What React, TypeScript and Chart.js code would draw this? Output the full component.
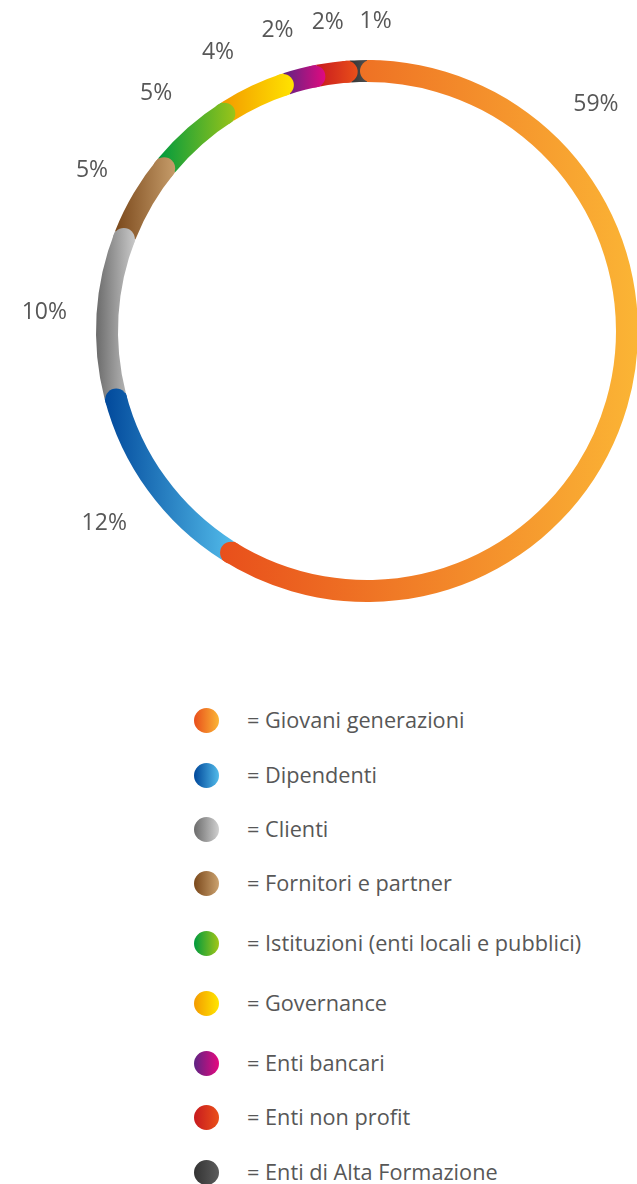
import React, { useEffect, useRef } from "react";
import { Chart, registerables } from "chart.js";

Chart.register(...registerables);

// ---------- data ----------
const CATEGORIES = [
  "Giovani generazioni",
  "Dipendenti",
  "Clienti",
  "Fornitori e partner",
  "Istituzioni (enti locali e pubblici)",
  "Governance",
  "Enti bancari",
  "Enti non profit",
  "Enti di Alta Formazione",
];
const VALUES = [59, 12, 10, 5, 5, 4, 2, 2, 1];
const VALUE_LABELS = ["59%", "12%", "10%", "5%", "5%", "4%", "2%", "2%", "1%"];
const COLOR_START = [
  "#e84e1b",
  "#00479a",
  "#6b6b6b",
  "#7a481b",
  "#009a3e",
  "#f39a00",
  "#5e2483",
  "#c71a1f",
  "#333333",
];
const COLOR_END = [
  "#fbb535",
  "#52bbea",
  "#d0d0d0",
  "#cba26f",
  "#a2c617",
  "#ffe600",
  "#e5097f",
  "#ea5019",
  "#5c5c5c",
];

// ---------- layout / style ----------
const CANVAS_W = 740;
const CANVAS_H = 662;
const OUTER_R = 271;
const INNER_R = 249;
const CAP_OVERHANG = 7;
const LABEL_GAP = 29;
// label directions (degrees clockwise from top) where the label is not at the slice middle
const LABEL_ANGLE_OVERRIDES: Record<number, number> = { 0: 45, 5: 332, 6: 343.5, 8: 1.6 };
const LEGEND_ROW_Y = [720, 775, 829, 883, 943, 1003, 1063, 1117, 1172];
const TEXT_COLOR = "#575757";
const FONT = "'Open Sans', 'Noto Sans', sans-serif";

function arcGeom(el: any) {
  return el.getProps(
    ["x", "y", "startAngle", "endAngle", "innerRadius", "outerRadius"],
    true
  );
}

const ringPlugin = {
  id: "ringDecor",
  beforeDatasetsDraw(chart: any) {
    const ctx = chart.ctx as CanvasRenderingContext2D;
    const meta = chart.getDatasetMeta(0);
    meta.data.forEach((el: any, i: number) => {
      const { x, startAngle, endAngle, innerRadius, outerRadius } = arcGeom(el);
      const midR = (innerRadius + outerRadius) / 2;
      const ext = CAP_OVERHANG / midR;
      let minX = Infinity;
      let maxX = -Infinity;
      const a0 = startAngle - (i === 0 ? ext : 0);
      const a1 = endAngle + ext;
      const steps = 90;
      for (let k = 0; k <= steps; k++) {
        const a = a0 + ((a1 - a0) * k) / steps;
        for (const r of [innerRadius, outerRadius]) {
          const px = x + r * Math.cos(a);
          if (px < minX) minX = px;
          if (px > maxX) maxX = px;
        }
      }
      const g = ctx.createLinearGradient(minX, 0, maxX, 0);
      g.addColorStop(0, COLOR_START[i]);
      g.addColorStop(1, COLOR_END[i]);
      el.options.backgroundColor = g;
      el.$grad = g;
    });
  },
  afterDatasetsDraw(chart: any) {
    const ctx = chart.ctx as CanvasRenderingContext2D;
    const meta = chart.getDatasetMeta(0);
    const n = meta.data.length;
    const drawCap = (el: any, angle: number, dirSign: number) => {
      const { x, y, innerRadius, outerRadius } = arcGeom(el);
      const midR = (innerRadius + outerRadius) / 2;
      const capR = (outerRadius - innerRadius) / 2;
      const a = angle + (dirSign * (CAP_OVERHANG - capR)) / midR;
      ctx.save();
      ctx.beginPath();
      ctx.arc(x + midR * Math.cos(a), y + midR * Math.sin(a), capR, 0, Math.PI * 2);
      ctx.fillStyle = el.$grad;
      ctx.fill();
      ctx.restore();
    };
    for (let i = 0; i < n - 1; i++) {
      const el = meta.data[i];
      drawCap(el, arcGeom(el).endAngle, 1);
    }
    drawCap(meta.data[0], arcGeom(meta.data[0]).startAngle, -1);
  },
  afterDraw(chart: any) {
    const ctx = chart.ctx as CanvasRenderingContext2D;
    const meta = chart.getDatasetMeta(0);
    ctx.save();
    ctx.font = `23px ${FONT}`;
    ctx.fillStyle = TEXT_COLOR;
    ctx.textAlign = "center";
    ctx.textBaseline = "middle";
    meta.data.forEach((el: any, i: number) => {
      const { x, y, startAngle, endAngle, outerRadius } = arcGeom(el);
      let a = (startAngle + endAngle) / 2;
      if (LABEL_ANGLE_OVERRIDES[i] !== undefined) {
        a = ((LABEL_ANGLE_OVERRIDES[i] - 90) * Math.PI) / 180;
      }
      const txt = VALUE_LABELS[i];
      const hw = ctx.measureText(txt).width / 2;
      const hh = 11;
      const dx = Math.cos(a);
      const dy = Math.sin(a);
      const support = Math.abs(dx) * hw + Math.abs(dy) * hh;
      const d = outerRadius + LABEL_GAP + support;
      ctx.fillText(txt, x + dx * d, y + dy * d + 2);
    });
    ctx.restore();
  },
};

function Ring() {
  const ref = useRef<HTMLCanvasElement | null>(null);
  useEffect(() => {
    if (!ref.current) return;
    const chart = new Chart(ref.current, {
      type: "doughnut",
      data: {
        labels: CATEGORIES,
        datasets: [
          {
            data: VALUES,
            backgroundColor: COLOR_START,
            borderWidth: 0,
            spacing: 0,
          },
        ],
      },
      options: {
        responsive: false,
        animation: false,
        events: [],
        radius: OUTER_R,
        cutout: INNER_R,
        layout: {
          padding: {
            left: 96,
            top: 60,
            right: CANVAS_W - 96 - 2 * OUTER_R,
            bottom: CANVAS_H - 60 - 2 * OUTER_R,
          },
        },
        plugins: {
          legend: { display: false },
          tooltip: { enabled: false },
        },
      } as any,
      plugins: [ringPlugin as any],
    });
    return () => chart.destroy();
  }, []);
  return (
    <canvas
      ref={ref}
      width={CANVAS_W}
      height={CANVAS_H}
      style={{ position: "absolute", left: 0, top: 0, width: CANVAS_W, height: CANVAS_H }}
    />
  );
}

export default function App() {
  return (
    <div
      style={{
        position: "absolute",
        left: 0,
        top: 0,
        width: 637,
        height: 1184,
        overflow: "hidden",
        background: "#ffffff",
        fontFamily: FONT,
      }}
    >
      <Ring />
      {CATEGORIES.map((c, i) => (
        <div
          key={c}
          style={{
            position: "absolute",
            left: 0,
            top: LEGEND_ROW_Y[i] - 15,
            height: 30,
            display: "flex",
            alignItems: "center",
            whiteSpace: "nowrap",
          }}
        >
          <div
            style={{
              marginLeft: 194,
              width: 25,
              height: 25,
              borderRadius: "50%",
              background: `linear-gradient(to right, ${COLOR_START[i]}, ${COLOR_END[i]})`,
              flex: "none",
            }}
          />
          <div
            style={{
              marginLeft: 28,
              fontSize: 21.7,
              lineHeight: "30px",
              color: TEXT_COLOR,
            }}
          >
            = {c}
          </div>
        </div>
      ))}
    </div>
  );
}
